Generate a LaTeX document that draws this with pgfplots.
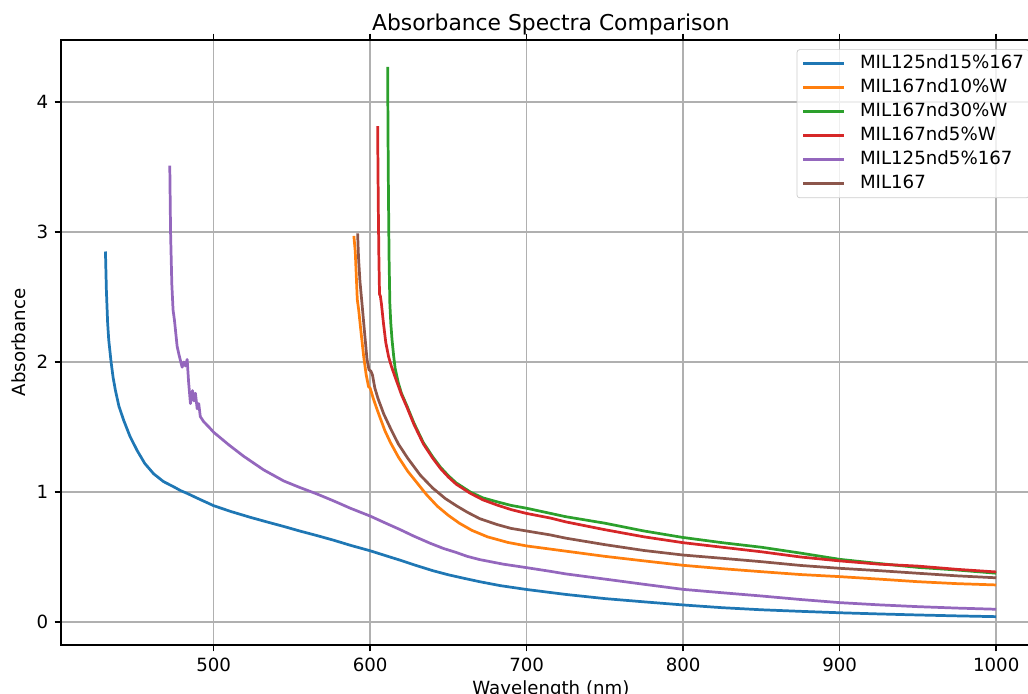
\documentclass[border=0pt]{standalone}
\usepackage{fontspec}
\setmainfont{DejaVu Sans}
\usepackage{pgfplots}
\pgfplotsset{compat=1.18}
\definecolor{tabblue}{HTML}{1F77B4}
\definecolor{taborange}{HTML}{FF7F0E}
\definecolor{tabgreen}{HTML}{2CA02C}
\definecolor{tabred}{HTML}{D62728}
\definecolor{tabpurple}{HTML}{9467BD}
\definecolor{tabbrown}{HTML}{8C564B}
\definecolor{gridc}{HTML}{B0B0B0}
\begin{document}
\begin{tikzpicture}
\begin{axis}[
  scale only axis=true,
  width=538.9pt, height=332.75pt,
  xmin=402.5, xmax=1028.5, ymin=-0.177, ymax=4.477,
  xtick={500,600,700,800,900,1000},
  ytick={0,1,2,3,4},
  tick align=outside,
  major tick length=3.5pt,
  tick style={black, line width=0.8pt},
  axis line style={line width=0.8pt},
  grid=major,
  major grid style={gridc, line width=0.8pt},
  /pgf/number format/assume math mode=true,
  /pgf/number format/1000 sep={},
  tick label style={font=\fontsize{10}{12}\selectfont},
  title={Absorbance Spectra Comparison},
  every axis title/.style={at={(0.5,1)}, anchor=base, yshift=5.2pt, font=\fontsize{12}{14}\selectfont},
  xlabel={Wavelength (nm)},
  ylabel={Absorbance},
  every axis x label/.style={at={(0.5,0)}, anchor=base, yshift=-26.95pt, font=\fontsize{10}{12}\selectfont},
  every axis y label/.style={at={(0,0.5)}, xshift=-23.4pt, rotate=90, anchor=center, font=\fontsize{10}{12}\selectfont},
  legend cell align=left,
  legend image code/.code={\draw[#1, line width=1.5pt] (0pt,0pt) -- (22.5pt,0pt);},
  legend style={at={(0,1)}, anchor=north west, xshift=404.6pt, yshift=-5.1pt,
    draw=black!20, rounded corners=1.5pt, fill=white, fill opacity=0.8, text opacity=1,
    inner xsep=2.75pt, inner ysep=3pt, column sep=7.9pt, row sep=3.7pt,
    font=\fontsize{10}{12}\selectfont,
    nodes={inner xsep=0pt, inner ysep=0pt, text height=7.3pt, text depth=2.2pt}},
  every axis plot/.append style={line width=1.5pt, line join=round},
]
\addplot[tabblue] coordinates {
(430.9,2.85)(431.5,2.55)(432.3,2.30)(433,2.17)(434.5,2.00)(435.8,1.88)(437.3,1.78)(439.5,1.66)(442.6,1.55)(446.5,1.43)(451.1,1.32)(456,1.22)(461.7,1.14)(468,1.08)(474.5,1.04)(479,1.01)(481,1.00)(483,0.99)(490,0.95)(500,0.895)(511,0.85)(523.5,0.805)(534,0.77)(544.8,0.735)(555,0.70)(566,0.665)(577,0.628)(587.4,0.59)(600,0.548)(610,0.51)(619.3,0.475)(628,0.44)(640,0.395)(650,0.363)(660,0.336)(670,0.31)(683,0.28)(700,0.25)(725,0.212)(750,0.18)(775,0.155)(800,0.131)(825,0.11)(850,0.094)(875,0.082)(900,0.071)(925,0.062)(950,0.054)(975,0.047)(1000,0.041)
};
\addlegendentry{MIL125nd15\%167}
\addplot[taborange] coordinates {
(589.6,2.97)(590.5,2.85)(591.2,2.65)(591.8,2.48)(592.7,2.40)(594,2.25)(595.9,2.04)(597.5,1.90)(599,1.81)(600,1.80)(602,1.72)(604,1.65)(606.4,1.57)(609.5,1.47)(613,1.38)(618,1.27)(624,1.16)(630,1.07)(636,0.98)(643,0.89)(650,0.82)(657,0.76)(665,0.705)(675,0.655)(688,0.612)(700,0.585)(725,0.545)(750,0.505)(775,0.47)(800,0.436)(825,0.41)(850,0.387)(875,0.365)(900,0.349)(925,0.33)(950,0.31)(975,0.295)(1000,0.285)
};
\addlegendentry{MIL167nd10\%W}
\addplot[tabgreen] coordinates {
(611.2,4.27)(611.4,3.8)(611.7,3.3)(612.1,2.8)(612.6,2.45)(613.2,2.30)(614,2.17)(615,2.05)(616,1.95)(618,1.84)(620,1.76)(623.6,1.66)(628,1.53)(634,1.38)(640,1.27)(645,1.19)(650,1.125)(655,1.07)(664,1.00)(672,0.955)(681,0.925)(690,0.897)(700,0.875)(715,0.836)(725,0.81)(750,0.76)(775,0.70)(800,0.65)(825,0.61)(850,0.575)(875,0.53)(900,0.482)(925,0.45)(950,0.42)(975,0.40)(1000,0.375)
};
\addlegendentry{MIL167nd30\%W}
\addplot[tabred] coordinates {
(604.8,3.815)(605.0,3.5)(605.3,3.1)(605.6,2.8)(606.0,2.52)(606.5,2.51)(607.2,2.45)(608.5,2.30)(610,2.15)(611.8,2.04)(613.5,1.97)(615.5,1.90)(618.2,1.81)(620,1.75)(623.6,1.65)(628,1.52)(634,1.37)(640,1.26)(645,1.18)(650,1.115)(655,1.06)(664,0.99)(672,0.94)(681,0.90)(690,0.865)(700,0.835)(715,0.80)(725,0.77)(750,0.71)(775,0.655)(800,0.61)(825,0.575)(850,0.54)(875,0.50)(900,0.47)(925,0.445)(950,0.43)(975,0.405)(1000,0.385)
};
\addlegendentry{MIL167nd5\%W}
\addplot[tabpurple] coordinates {
(472,3.51)(472.5,3.0)(473.3,2.6)(474.1,2.4)(475,2.32)(476.7,2.12)(478,2.05)(479.9,1.96)(481,2.0)(482,1.97)(483.1,2.02)(484,1.85)(485.2,1.68)(486.5,1.78)(487.5,1.70)(488.4,1.76)(489.5,1.64)(490.5,1.68)(491.5,1.58)(493.7,1.54)(497,1.50)(500,1.46)(505,1.41)(510,1.36)(519.2,1.275)(532,1.17)(544.8,1.085)(555,1.035)(566,0.985)(577,0.93)(587.4,0.875)(600,0.815)(610,0.76)(619.3,0.71)(628,0.66)(638.5,0.605)(647,0.565)(655,0.535)(662,0.505)(670,0.48)(685,0.445)(700,0.418)(715,0.39)(725,0.37)(750,0.33)(775,0.29)(800,0.251)(825,0.225)(850,0.2)(875,0.173)(900,0.149)(925,0.132)(950,0.118)(975,0.107)(1000,0.098)
};
\addlegendentry{MIL125nd5\%167}
\addplot[tabbrown] coordinates {
(592,2.99)(592.6,2.80)(593.5,2.62)(594.8,2.45)(596.5,2.22)(598,2.02)(599.3,1.94)(600.5,1.93)(601.5,1.90)(603,1.80)(605,1.72)(608.7,1.60)(613,1.49)(618,1.37)(624,1.26)(632,1.13)(640,1.03)(648,0.95)(655,0.895)(662,0.845)(670,0.795)(681,0.75)(690,0.72)(700,0.70)(715,0.67)(725,0.645)(750,0.595)(775,0.55)(800,0.515)(825,0.49)(850,0.464)(875,0.435)(900,0.413)(925,0.395)(950,0.375)(975,0.355)(1000,0.34)
};
\addlegendentry{MIL167}
\end{axis}
\pgfresetboundingbox
\useasboundingbox (-33.55pt,-26.4pt) rectangle (531.85pt,354.75pt);
\end{tikzpicture}
\end{document}
